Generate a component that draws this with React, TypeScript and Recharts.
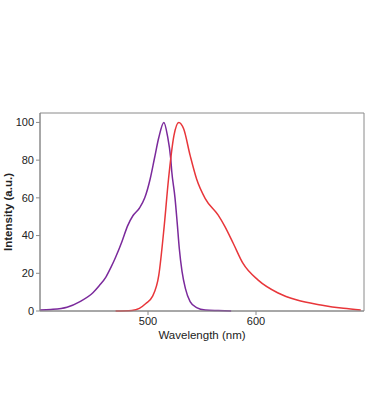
import { LineChart, Line, XAxis, YAxis, ReferenceArea } from "recharts";

// excitation (purple) and emission (red) spectra
const excitationNm = [400, 410, 425, 437, 449, 455, 461, 466, 470, 476, 481, 486, 492, 497, 502, 506, 510, 514.7, 518, 521, 522, 525, 527, 529, 531.5, 534.6, 539, 545, 553, 565, 577];
const excitationVal = [0.5, 0.8, 2, 5, 9.7, 13.5, 18, 23.5, 28.5, 37, 45, 50.5, 54.5, 60, 70, 81, 92, 100, 93, 81, 74, 60, 47, 33, 21, 12, 5, 1.8, 0.5, 0.2, 0];

const emissionNm = [470, 485, 492, 498, 504, 510, 515, 519, 524, 528.5, 533, 539, 545, 553, 565, 571, 579, 588, 602, 620, 638, 660, 681, 697];
const emissionVal = [0, 0.3, 1.4, 4, 7.6, 19, 45, 70, 93, 100, 96.6, 82.5, 70, 59.6, 50.8, 45, 35.8, 25.2, 16.4, 9.7, 5.8, 3.2, 1.4, 0.5];

const xTicks = [500, 600];
const yTicks = [0, 20, 40, 60, 80, 100];

const excitation = excitationNm.map((nm, i) => ({ nm, v: excitationVal[i] }));
const emission = emissionNm.map((nm, i) => ({ nm, v: emissionVal[i] }));

const frame = "#8a8a8a";
const tickFont = { fontSize: 11, fill: "#222", fontFamily: "Liberation Sans, Arial, sans-serif" };

export default function App() {
  return (
    <div style={{ position: "absolute", left: 0, top: 0, background: "#fff" }}>
      <LineChart width={369} height={420} margin={{ top: 113, right: 5, bottom: 0, left: 0 }}>
        <XAxis
          dataKey="nm"
          type="number"
          domain={[400, 700]}
          ticks={xTicks}
          allowDataOverflow
          stroke={frame}
          tickSize={4}
          tick={tickFont}
          height={109}
          label={{ value: "Wavelength (nm)", position: "insideTop", offset: 20, style: { ...tickFont, fontSize: 11.5 } }}
        />
        <YAxis
          type="number"
          domain={[0, 105]}
          ticks={yTicks}
          stroke={frame}
          tickSize={4}
          tick={tickFont}
          width={40}
          label={{ value: "Intensity (a.u.)", angle: -90, position: "insideLeft", offset: 8, style: { ...tickFont, fontSize: 11.5, fontWeight: "bold", textAnchor: "middle" } }}
        />
        <ReferenceArea x1={400} x2={700} y1={0} y2={105} fill="none" stroke={frame} strokeOpacity={1} ifOverflow="visible" />
        <Line data={excitation} dataKey="v" type="monotone" stroke="#7b2a9c" strokeWidth={1.5} dot={false} isAnimationActive={false} />
        <Line data={emission} dataKey="v" type="monotone" stroke="#e8363a" strokeWidth={1.5} dot={false} isAnimationActive={false} />
      </LineChart>
    </div>
  );
}
